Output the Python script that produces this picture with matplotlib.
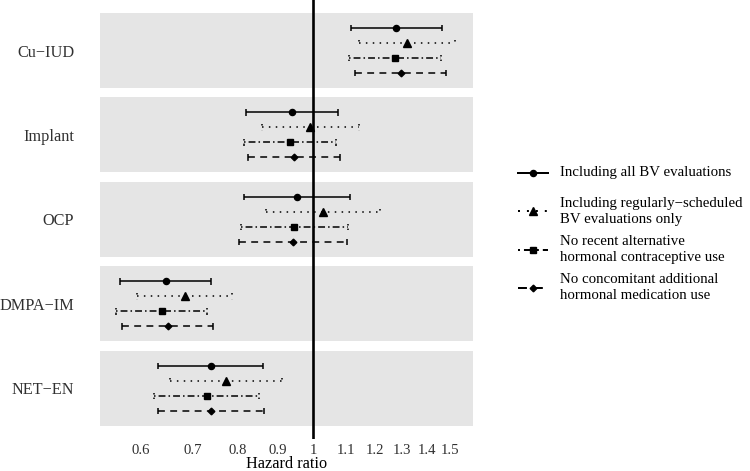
import numpy as np
import matplotlib.pyplot as plt
from matplotlib.lines import Line2D
from matplotlib.ticker import NullLocator

plt.rcParams['font.family'] = ['Liberation Serif', 'DejaVu Serif']

methods = ["Cu−IUD", "Implant", "OCP", "DMPA−IM", "NET−EN"]
analyses = ["Including all BV evaluations",
            "Including regularly−scheduled\nBV evaluations only",
            "No recent alternative\nhormonal contraceptive use",
            "No concomitant additional\nhormonal medication use"]

# hazard ratios, one row per method, one column per analysis
hr = [[1.277, 1.318, 1.273, 1.296],
      [0.938, 0.990, 0.934, 0.943],
      [0.953, 1.028, 0.944, 0.942],
      [0.645, 0.683, 0.638, 0.650],
      [0.737, 0.772, 0.729, 0.738]]
ci_low = [[1.118, 1.143, 1.112, 1.131],
          [0.819, 0.858, 0.815, 0.823],
          [0.814, 0.869, 0.806, 0.803],
          [0.564, 0.592, 0.557, 0.567],
          [0.630, 0.654, 0.624, 0.630]]
ci_high = [[1.462, 1.522, 1.459, 1.483],
           [1.075, 1.143, 1.069, 1.082],
           [1.116, 1.219, 1.109, 1.106],
           [0.737, 0.786, 0.729, 0.742],
           [0.861, 0.912, 0.851, 0.863]]

x_ticks = [0.6, 0.7, 0.8, 0.9, 1, 1.1, 1.2, 1.3, 1.4, 1.5]
x_tick_labels = ["0.6", "0.7", "0.8", "0.9", "1", "1.1", "1.2", "1.3", "1.4", "1.5"]

line_styles = ['-', (0, (1, 3.5)), (0, (1, 2, 4.5, 2)), (0, (4.5, 3.5))]
markers = ['o', '^', 's', 'D']
marker_sizes = [4.4, 5.4, 4.6, 3.4]
lw = 1.1
text_col = '#303030'
panel_col = '#E5E5E5'

W, H = 750, 471
fig = plt.figure(figsize=(7.5, 4.71), dpi=100)
ax = fig.add_axes([100 / W, 1 - 439 / H, 373 / W, 439 / H])

period = 5.633   # panel height (5) + gap
cap = 0.23
for k in range(len(methods)):
    top = k * period
    ax.axhspan(top, top + 5, color=panel_col, lw=0, zorder=0)
    for j in range(len(analyses)):
        y = top + 1 + j
        lo, hi, est = ci_low[k][j], ci_high[k][j], hr[k][j]
        ax.hlines(y, lo, hi, colors='black', linestyles=[line_styles[j]], lw=lw, zorder=2)
        ax.vlines([lo, hi], y - cap, y + cap, colors='black',
                  linestyles=[line_styles[j]], lw=lw, zorder=2)
        ax.plot([est], [y], marker=markers[j], ms=marker_sizes[j], color='black',
                ls='none', zorder=3)

ax.axvline(1, color='black', lw=1.9, zorder=4)

ax.set_xscale('log')
ax.set_xlim(0.531, 1.605)
ax.set_ylim(28.4, -0.867)
ax.xaxis.set_minor_locator(NullLocator())
ax.set_xticks(x_ticks)
ax.set_xticklabels(x_tick_labels)
ax.set_yticks([k * period + 2.5 for k in range(len(methods))])
ax.set_yticklabels(methods)
ax.tick_params(axis='x', length=0, pad=3.8, labelsize=10.6, labelcolor=text_col)
ax.tick_params(axis='y', length=0, pad=18.5, labelsize=11.7, labelcolor=text_col)
ax.set_xlabel("Hazard ratio", fontsize=11.7, color='black', labelpad=-1)
for s in ax.spines.values():
    s.set_visible(False)

# legend drawn by hand so the keys line up with the two-line labels
for i, lab in enumerate(analyses):
    yf = 1 - (173 + i * 38.3) / H
    key = Line2D([518 / W, 533 / W, 548 / W], [yf] * 3, transform=fig.transFigure,
                 color='black', lw=lw * 1.3, ls=line_styles[i], marker=markers[i],
                 ms=marker_sizes[i], markevery=[1])
    fig.add_artist(key)
    fig.text(560 / W, yf, lab, ha='left', va='center', fontsize=10.7,
             color='black', linespacing=1.3)

fig.savefig("out.png", dpi=100)
